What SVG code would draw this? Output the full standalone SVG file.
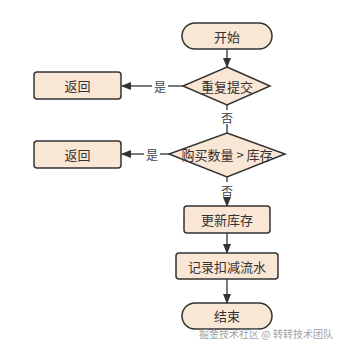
<svg xmlns="http://www.w3.org/2000/svg" width="341" height="346" viewBox="0 0 341 346">
<defs>
<marker id="ah" markerWidth="10" markerHeight="8" refX="9" refY="4" orient="auto" markerUnits="userSpaceOnUse">
<path d="M0,0 L10,4 L0,8 Z" fill="#333"/>
</marker>
<style>
.n{fill:#fae6d5;stroke:#333;stroke-width:1.5}
.t{font-family:"Noto Sans CJK SC","Noto Sans",sans-serif;font-size:13px;fill:#333;text-anchor:middle;dominant-baseline:central}
.l{font-family:"Noto Sans CJK SC","Noto Sans",sans-serif;font-size:12px;fill:#444;text-anchor:middle;dominant-baseline:central}
.e{stroke:#333;stroke-width:1.3;fill:none}
</style>
</defs>
<rect width="341" height="346" fill="#fff"/>
<g id="connectors">
<line class="e" x1="227" y1="49" x2="227" y2="67" marker-end="url(#ah)"/>
<line class="e" x1="183" y1="86" x2="168" y2="86"/>
<line class="e" x1="152" y1="86" x2="122" y2="86" marker-end="url(#ah)"/>
<text class="l" x="160" y="86">是</text>
<line class="e" x1="227" y1="105" x2="227" y2="110"/>
<text class="l" x="227" y="117">否</text>
<line class="e" x1="227" y1="124" x2="227" y2="133"/>
<line class="e" x1="169" y1="154" x2="160" y2="154"/>
<line class="e" x1="144" y1="154" x2="122" y2="154" marker-end="url(#ah)"/>
<text class="l" x="152" y="154">是</text>
<line class="e" x1="227" y1="177" x2="227" y2="182"/>
<text class="l" x="227" y="190">否</text>
<line class="e" x1="227" y1="197" x2="227" y2="206" marker-end="url(#ah)"/>
<line class="e" x1="227" y1="233" x2="227" y2="253" marker-end="url(#ah)"/>
<line class="e" x1="227" y1="279" x2="227" y2="303" marker-end="url(#ah)"/>
</g>
<g id="start"><rect class="n" x="182" y="23" width="90" height="26" rx="13"/><text class="t" x="227" y="36">开始</text></g>
<g id="dup"><polygon class="n" points="227,67 270,86 227,105 183,86"/><text class="t" x="227" y="86">重复提交</text></g>
<g id="ret1"><rect class="n" x="34" y="72" width="87" height="27" rx="3"/><text class="t" x="77.5" y="85.5">返回</text></g>
<g id="cmp"><polygon class="n" points="227,133 285,154 227,177 169,154"/><text class="t" x="227" y="154">购买数量 &gt; 库存</text></g>
<g id="ret2"><rect class="n" x="34" y="141" width="87" height="27" rx="3"/><text class="t" x="77.5" y="154.5">返回</text></g>
<g id="upd"><rect class="n" x="184" y="206" width="86" height="27" rx="3"/><text class="t" x="227" y="219.5">更新库存</text></g>
<g id="log"><rect class="n" x="176" y="253" width="102" height="26" rx="3"/><text class="t" x="227" y="266">记录扣减流水</text></g>
<g id="end"><rect class="n" x="182" y="303" width="90" height="26" rx="13"/><text class="t" x="227" y="315.5">结束</text></g>
<text x="266" y="333" font-family="'Noto Sans CJK SC',sans-serif" font-size="10" fill="#999" text-anchor="middle" dominant-baseline="central" opacity="0.9">掘金技术社区 @ 转转技术团队</text>
</svg>
